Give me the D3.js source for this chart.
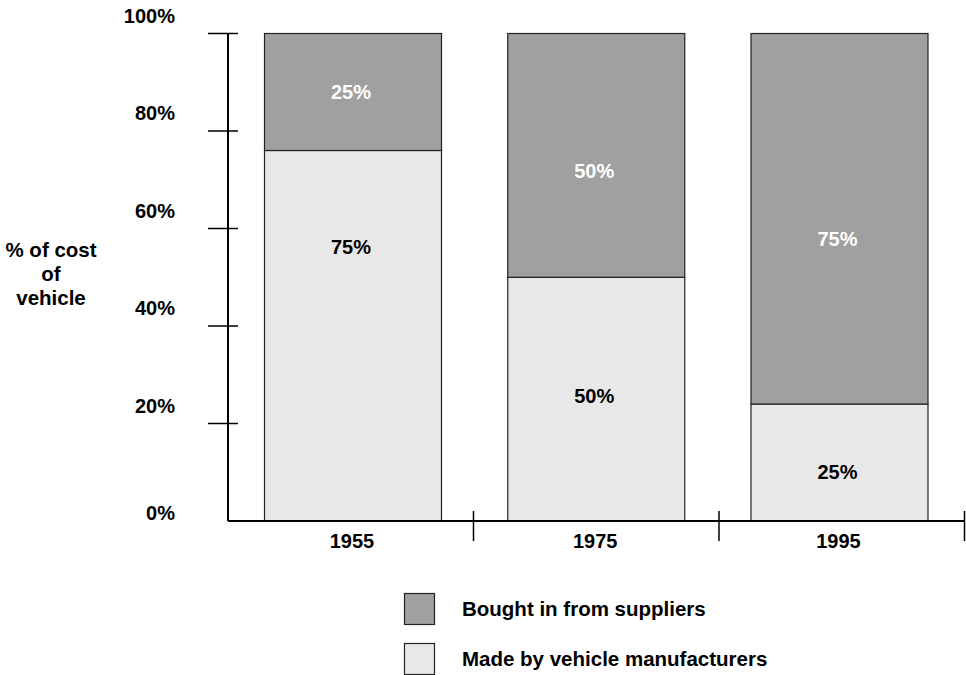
<!DOCTYPE html>
<html><head><meta charset="utf-8">
<script src="https://cdn.jsdelivr.net/npm/d3@7"></script>
<style>body{margin:0;background:#fff}svg{display:block}text{font-family:"Liberation Sans",Arial,sans-serif;font-weight:bold}</style>
</head><body><svg id="c" width="966" height="675"></svg>
<script>
const categories = ["1955", "1975", "1995"];
const made = [76, 50, 24];
const bought = [24, 50, 76];
const boughtLabels = ["25%", "50%", "75%"];
const madeLabels = ["75%", "50%", "25%"];
const boughtLabelAt = [87.9, 71.8, 57.8];
const madeLabelAt = [56.2, 25.6, 10];
const yTicks = [0, 20, 40, 60, 80, 100];
const seriesNames = ["Bought in from suppliers", "Made by vehicle manufacturers"];
const colors = ["#a0a0a0", "#e8e8e8"];

const svg = d3.select("#c");
const x = d3.scaleBand().domain(categories).range([228, 964.5]).padding(0);
const xc = d3.scalePoint().domain(categories).range([353, 839.5]);
const y = d3.scaleLinear().domain([0, 100]).range([521, 33.5]);
const barW = 177;

// bars
categories.forEach((c, i) => {
  const cx = xc(c);
  svg.append("rect").attr("x", cx - barW / 2).attr("y", y(made[i])).attr("width", barW)
    .attr("height", y(0) - y(made[i])).attr("fill", colors[1]).attr("stroke", "#222").attr("stroke-width", 1.2);
  svg.append("rect").attr("x", cx - barW / 2).attr("y", y(made[i] + bought[i])).attr("width", barW)
    .attr("height", y(made[i]) - y(made[i] + bought[i])).attr("fill", colors[0]).attr("stroke", "#222").attr("stroke-width", 1.2);
  svg.append("text").attr("x", cx - 2).attr("y", y(boughtLabelAt[i])).attr("dy", "0.35em").attr("text-anchor", "middle")
    .attr("font-size", 20).attr("fill", "#fff").text(boughtLabels[i]);
  svg.append("text").attr("x", cx - 2).attr("y", y(madeLabelAt[i])).attr("dy", "0.35em").attr("text-anchor", "middle")
    .attr("font-size", 20).attr("fill", "#000").text(madeLabels[i]);
  svg.append("text").attr("x", cx - 1).attr("y", 548).attr("text-anchor", "middle")
    .attr("font-size", 20).attr("fill", "#000").text(c);
});

// y axis
svg.append("line").attr("x1", 228).attr("x2", 228).attr("y1", y(100)).attr("y2", y(0)).attr("stroke", "#000").attr("stroke-width", 2);
yTicks.forEach(t => {
  if (t > 0) svg.append("line").attr("x1", 208).attr("x2", 238).attr("y1", y(t)).attr("y2", y(t)).attr("stroke", "#000").attr("stroke-width", 1.5);
  svg.append("text").attr("x", 175).attr("y", y(t) + (t === 0 ? -1 : -11)).attr("text-anchor", "end")
    .attr("font-size", 20).attr("fill", "#000").text(t + "%");
});

// x axis
svg.append("line").attr("x1", 228).attr("x2", 964.5).attr("y1", y(0)).attr("y2", y(0)).attr("stroke", "#000").attr("stroke-width", 2);
categories.forEach(c => {
  const xe = x(c) + x.bandwidth();
  svg.append("line").attr("x1", xe).attr("x2", xe).attr("y1", 511).attr("y2", 541).attr("stroke", "#000").attr("stroke-width", 1.5);
});

// y title
const yt = svg.append("text").attr("x", 51).attr("y", 257).attr("text-anchor", "middle").attr("font-size", 20.5).attr("fill", "#000");
["% of cost", "of", "vehicle"].forEach((l, i) => yt.append("tspan").attr("x", 51).attr("dy", i === 0 ? 0 : 24).text(l));

// legend
seriesNames.forEach((n, i) => {
  svg.append("rect").attr("x", 404.5).attr("y", 593.5 + i * 50).attr("width", 30).attr("height", 31)
    .attr("fill", colors[i]).attr("stroke", "#222").attr("stroke-width", 1.2);
  svg.append("text").attr("x", 462).attr("y", 616 + i * 50).attr("font-size", 20.5).attr("fill", "#000").text(n);
});
</script></body></html>
